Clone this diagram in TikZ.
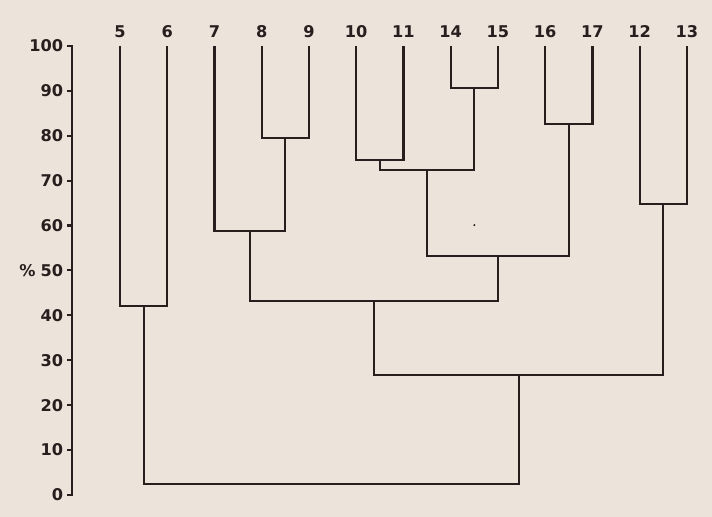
\documentclass[tikz,border=0pt]{standalone}
\usepackage{fontspec}
\setmainfont{DejaVu Sans}
\usepackage{xcolor}
\usepackage{tikz}
\usetikzlibrary{positioning,calc}

\definecolor{paper}{RGB}{236,227,218}
\definecolor{ink}{RGB}{40,30,30}

\begin{document}
\begin{tikzpicture}[x=1.18125cm, y=0.11225cm,
  branch/.style={draw=ink, line width=1.5pt, line join=miter},
  leaflab/.style={anchor=base, inner sep=0pt, text=ink, font=\bfseries\fontsize{11.5}{13}\selectfont},
  ticklab/.style={anchor=east, inner sep=0pt, text=ink, font=\bfseries\fontsize{11.5}{13}\selectfont}]
  % Background
  \fill[paper] (-2.54,-4.9) rectangle (12.53,110.24);
  \useasboundingbox (-2.54,-4.9) rectangle (12.53,110.24);

  % Axis
  \draw[branch] (-1.12,100) -- (-1.016,100) -- (-1.016,0) -- (-1.12,0);
  \foreach \v in {10,20,...,90}
    \draw[branch] (-1.12,\v) -- (-1.016,\v);
  \foreach \v in {0,10,...,100}
    \node[ticklab] (y\v) at (-1.2,\v) {\v};
  \node[ticklab] (pct) at (-1.78,50) {\%};

  % Leaves (top ends and labels)
  \foreach \lab [count=\i from 0] in {5,6,7,8,9,10,11,14,15,16,17,12,13} {
    \coordinate (t\lab) at (\i,100);
    \node[leaflab] (l\lab) at (\i,101.8) {\lab};
  }

  % Merge points
  \coordinate (m56)   at (0.5,42);
  \coordinate (m89)   at (3.5,79.5);
  \coordinate (m789)  at (2.75,58.8);
  \coordinate (m1011) at (5.5,74.6);
  \coordinate (m1415) at (7.5,90.6);
  \coordinate (m1015) at (6.5,72.4);
  \coordinate (m1617) at (9.5,82.6);
  \coordinate (m1017) at (8,53.2);
  \coordinate (m717)  at (5.375,43.2);
  \coordinate (m1213) at (11.5,64.8);
  \coordinate (m713)  at (8.4375,26.7);
  \coordinate (root)  at (4.47,2.5);

  % Branches
  \draw[branch] (t5) |- (m56) -| (t6);
  \draw[branch] (t8) |- (m89) -| (t9);
  \draw[branch] (t7) |- (m789) -| (m89);
  \draw[branch] (t10) |- (m1011) -| (t11);
  \draw[branch] (t14) |- (m1415) -| (t15);
  \draw[branch] (m1011) |- (m1015) -| (m1415);
  \draw[branch] (t16) |- (m1617) -| (t17);
  \draw[branch] (m1015) |- (m1017) -| (m1617);
  \draw[branch] (m789) |- (m717) -| (m1017);
  \draw[branch] (t12) |- (m1213) -| (t13);
  \draw[branch] (m717) |- (m713) -| (m1213);
  \draw[branch] (m56) |- (root) -| (m713);

  % Speck
  \fill[ink] (7.5,60.1) circle (0.8pt);
\end{tikzpicture}
\end{document}
